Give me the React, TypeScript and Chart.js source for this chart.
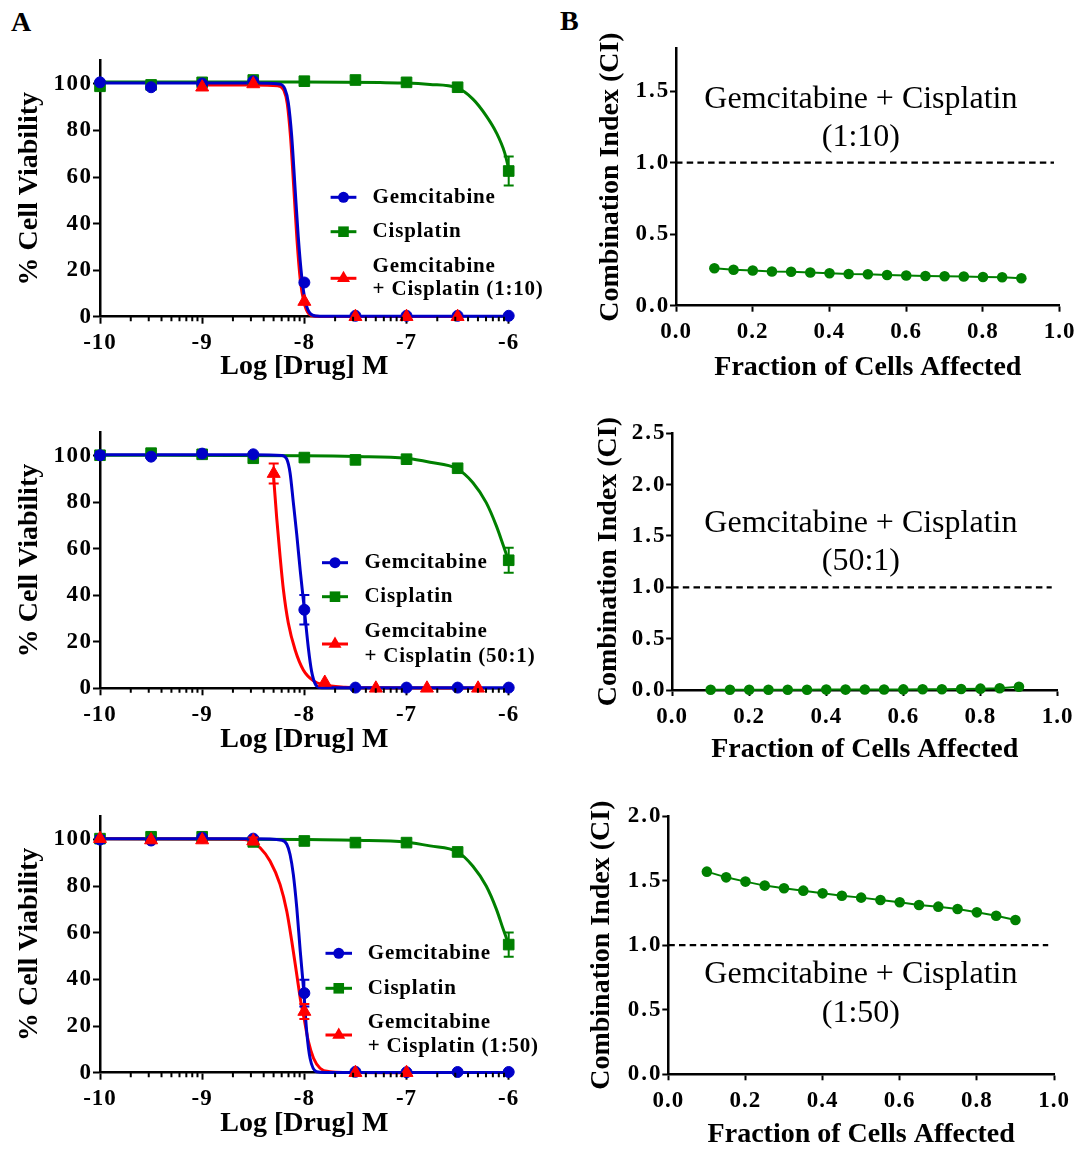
import React, { useEffect, useRef } from "react";
import { Chart, registerables } from "chart.js";

Chart.register(...registerables);

const SERIF = '"Liberation Serif", "Times New Roman", Times, serif';
const BLUE = "#0000C8";
const GREEN = "#008000";
const RED = "#FF0000";

// ---------------- Panel A : dose-response data ----------------
const doseX = [-10, -9.5, -9, -8.5, -8, -7.5, -7, -6.5, -6];
const logXTicks = [-10, -9, -8, -7, -6];
const viabilityTicks = [0, 20, 40, 60, 80, 100];
const minorTickOffsets = [0.301, 0.477, 0.602, 0.699, 0.778, 0.845, 0.903, 0.954];

// A1  (1:10)
const gemA1 = [100.7, 98.6, 100.2, 101.2, 14.7, 0.4, 0.4, 0.4, 0.4];
const gemA1Err = [0, 0, 0, 0, 0, 0, 0, 0, 0];
const cisA1 = [99.0, 99.6, 100.7, 101.7, 101.2, 101.7, 100.7, 98.6, 62.6];
const cisA1Err = [0, 0, 0, 0, 0, 0, 0, 0, 6.2];
const comboA1X = [-9, -8.5, -8, -7.5, -7, -6.5];
const comboA1 = [98.6, 100.0, 6.5, 0, 0, 0];
const comboA1Err = [0, 0, 0, 0, 0, 0];
const gemFitA1X = [-10, -8.5, -8.25, -8.19, -8.157, -8.124, -8.092, -8.06, -8.026, -7.993, -7.945, -7.88, -7.8, -6];
const gemFitA1Y = [100.4, 100.4, 100.0, 97.8, 92.0, 77.7, 56.0, 34.5, 17.3, 7.2, 1.5, 0.3, 0.2, 0.2];
const comboFitA1X = [-9, -8.5, -8.26, -8.2, -8.167, -8.135, -8.103, -8.072, -8.04, -8.005, -7.955, -7.89, -7.8, -6.5];
const comboFitA1Y = [99.6, 99.6, 99.2, 97.2, 91.5, 77.0, 55.0, 33.0, 16.0, 6.5, 1.2, 0.2, 0.1, 0.1];
const cisFitA1X = [-10, -8, -7.26, -7.0, -6.77, -6.51, -6.35, -6.22, -6.12, -6.04, -6.0];
const cisFitA1Y = [100.8, 100.8, 100.6, 100.4, 99.8, 98.4, 93.5, 86.3, 79.0, 70.5, 63.5];

// A2  (50:1)
const gemA2 = [100.3, 99.7, 101.0, 100.7, 33.8, 0.3, 0.3, 0.3, 0.3];
const gemA2Err = [1.5, 0, 0, 0, 6.3, 0, 0, 0, 0];
const cisA2 = [100.3, 101.2, 100.7, 99.0, 99.3, 98.3, 98.6, 94.7, 55.1];
const cisA2Err = [1.5, 0, 0, 0, 0, 0, 0, 0, 5.4];
const comboA2X = [-8.3, -7.8, -7.3, -6.8, -6.3];
const comboA2 = [92.4, 2.5, 0, 0, 0];
const comboA2Err = [4.3, 0, 0, 0, 0];
const gemFitA2X = [-10, -8.5, -8.22, -8.172, -8.14, -8.108, -8.074, -8.04, -8.0, -7.96, -7.93, -7.895, -7.85, -7.8, -6];
const gemFitA2Y = [100.5, 100.5, 100.2, 98.6, 92.8, 80.0, 66.0, 50.5, 34.0, 17.0, 7.5, 2.0, 0.3, 0.2, 0.2];
const comboFitA2X = [-8.3, -8.27, -8.238, -8.205, -8.157, -8.09, -8.01, -7.91, -7.81, -7.6, -7.3, -6.3];
const comboFitA2Y = [90.5, 73.0, 57.0, 42.4, 28.1, 16.5, 7.9, 3.2, 1.5, 0.5, 0.2, 0.1];
const cisFitA2X = [-10, -8, -7.5, -7.0, -6.77, -6.51, -6.35, -6.22, -6.12, -6.05, -6.0];
const cisFitA2Y = [100.3, 100.1, 99.8, 99.0, 97.3, 94.6, 88.5, 79.9, 69.8, 61.1, 54.7];

// A3  (1:50)
const gemA3 = [99.9, 99.5, 100.7, 100.3, 34.1, 0.4, 0.2, 0.3, 0.3];
const gemA3Err = [1.5, 0, 0, 0, 5.7, 0, 0, 0, 0];
const cisA3 = [100.3, 101.1, 101.1, 98.9, 99.3, 98.6, 98.6, 94.6, 54.9];
const cisA3Err = [0, 0, 0, 0, 0, 0, 0, 0, 5.2];
const comboA3X = [-10, -9.5, -9, -8.5, -8, -7.5, -7];
const comboA3 = [100.3, 99.7, 99.7, 99.3, 26.2, 0, 0];
const comboA3Err = [0, 0, 0, 1.5, 3.2, 0, 0];
const gemFitA3X = [-10, -8.5, -8.22, -8.172, -8.14, -8.108, -8.074, -8.04, -8.005, -7.977, -7.944, -7.88, -7.8, -6];
const gemFitA3Y = [100.2, 100.2, 99.6, 97.9, 93.5, 85.0, 70.6, 52.0, 34.5, 17.6, 6.2, 0.4, 0.1, 0.1];
const comboFitA3X = [-10, -8.65, -8.53, -8.433, -8.336, -8.238, -8.172, -8.123, -8.074, -8.035, -8.003, -7.96, -7.91, -7.846, -7.75, -7.6, -7];
const comboFitA3Y = [100.2, 100.1, 99.3, 96.4, 90.7, 80.7, 69.2, 56.3, 42.0, 30.5, 23.3, 13.3, 6.2, 1.9, 0.4, 0.1, 0];
const cisFitA3X = [-10, -8, -7.5, -7.0, -6.77, -6.5, -6.35, -6.22, -6.12, -6.05, -6.0];
const cisFitA3Y = [100.2, 99.9, 99.6, 98.8, 97.2, 94.6, 88.5, 80.0, 70.0, 61.0, 55.0];

const comboLabels = ["(1:10)", "(50:1)", "(1:50)"];

// ---------------- Panel B : combination index data ----------------
const faX = [0.1, 0.15, 0.2, 0.25, 0.3, 0.35, 0.4, 0.45, 0.5, 0.55, 0.6, 0.65, 0.7, 0.75, 0.8, 0.85, 0.9];
const ciB1 = [0.262, 0.251, 0.246, 0.239, 0.237, 0.232, 0.227, 0.222, 0.22, 0.215, 0.211, 0.208, 0.206, 0.204, 0.201, 0.199, 0.192];
const ciB2 = [0.002, 0.002, 0.002, 0.003, 0.003, 0.003, 0.004, 0.004, 0.005, 0.005, 0.006, 0.007, 0.008, 0.01, 0.013, 0.017, 0.032];
const ciB3 = [1.569, 1.525, 1.492, 1.461, 1.44, 1.422, 1.401, 1.383, 1.368, 1.35, 1.332, 1.311, 1.298, 1.28, 1.254, 1.228, 1.195];
const faTicks = [0, 0.2, 0.4, 0.6, 0.8, 1.0];
const ciTicksB1 = [0, 0.5, 1.0, 1.5];
const ciTicksB2 = [0, 0.5, 1.0, 1.5, 2.0, 2.5];
const ciTicksB3 = [0, 0.5, 1.0, 1.5, 2.0];
const ciMax = [1.8, 2.5, 2.0];
const refLineX = [0, 0.985];
const refLineY = [1, 1];

// ---------------- layout (page pixels) ----------------
const layoutA = [
  { canvas: { left: 0, top: 30, w: 560, h: 370 }, area: { left: 100, top: 60.7, right: 508.7, bottom: 316.7 }, xTitleY: 367, yTitleX: 29.3,
    legend: { x1: 330.6, x2: 356.4, textX: 372.6, rows: [197.3, 231.7, 278.3], comboText: [266.7, 290] } },
  { canvas: { left: 0, top: 405, w: 560, h: 365 }, area: { left: 100, top: 432.7, right: 508.7, bottom: 688.3 }, xTitleY: 740, yTitleX: 29.3,
    legend: { x1: 322, x2: 348, textX: 364.4, rows: [562.7, 596.7, 644], comboText: [631.7, 656.7] } },
  { canvas: { left: 0, top: 790, w: 560, h: 355 }, area: { left: 100, top: 816, right: 508.7, bottom: 1072.7 }, xTitleY: 1123.3, yTitleX: 29.3,
    legend: { x1: 325.5, x2: 352, textX: 367.8, rows: [953.3, 988.3, 1035], comboText: [1022.3, 1046.7] } },
];
const layoutB = [
  { canvas: { left: 540, top: 20, w: 541, h: 380 }, area: { left: 676, top: 48.3, right: 1061, bottom: 305.7 }, xTitleY: 368, yTitleX: 610.7, noteY: [100, 138] },
  { canvas: { left: 540, top: 400, w: 541, h: 370 }, area: { left: 672.1, top: 433.3, right: 1057.5, bottom: 690 }, xTitleY: 750, yTitleX: 609, noteY: [523.3, 561.7] },
  { canvas: { left: 540, top: 790, w: 541, h: 360 }, area: { left: 668.3, top: 816, right: 1054, bottom: 1074.3 }, xTitleY: 1135, yTitleX: 602, noteY: [975, 1013.3] },
];
const noteCenterX = 860.9;

const pts = (xs: number[], ys: number[]) => xs.map((x, i) => ({ x, y: ys[i] }));

// GraphPad-like letter spacing on tick labels: wrap the scale's own label drawing
function spaceLabels(s: any, spacing: string) {
  if (s.__spaced) return;
  const orig = s.drawLabels;
  s.drawLabels = function (area: any) {
    const ctx: any = this.ctx;
    ctx.letterSpacing = spacing;
    orig.call(this, area);
    ctx.letterSpacing = "0px";
  };
  s.__spaced = true;
}

function drawMarker(ctx: CanvasRenderingContext2D, style: string, x: number, y: number, color: string) {
  ctx.fillStyle = color;
  ctx.beginPath();
  if (style === "circle") {
    ctx.arc(x, y, 5.5, 0, Math.PI * 2);
  } else if (style === "rect") {
    ctx.rect(x - 5.3, y - 5.3, 10.6, 10.6);
  } else {
    ctx.moveTo(x, y - 7.5);
    ctx.lineTo(x + 6.5, y + 3.75);
    ctx.lineTo(x - 6.5, y + 3.75);
    ctx.closePath();
  }
  ctx.fill();
}

const errorBarPlugin = {
  id: "errorBars",
  beforeDatasetDraw(chart: any, args: any) {
    const ds: any = chart.data.datasets[args.index];
    if (!ds.errorBars) return;
    const yS = chart.scales.y;
    const ctx = chart.ctx;
    ctx.save();
    ctx.strokeStyle = ds.pointBorderColor;
    ctx.lineWidth = 2;
    args.meta.data.forEach((pt: any, k: number) => {
      const e = ds.errorBars[k];
      if (!e) return;
      const v = ds.data[k].y;
      const yt = yS.getPixelForValue(v + e);
      const yb = yS.getPixelForValue(v - e);
      ctx.beginPath();
      ctx.moveTo(pt.x, yt); ctx.lineTo(pt.x, yb);
      ctx.moveTo(pt.x - 5, yt); ctx.lineTo(pt.x + 5, yt);
      ctx.moveTo(pt.x - 5, yb); ctx.lineTo(pt.x + 5, yb);
      ctx.stroke();
    });
    ctx.restore();
  },
};

function minorTickPlugin() {
  return {
    id: "minorTicks",
    afterDraw(chart: any) {
      const xs = chart.scales.x;
      const ctx = chart.ctx;
      const y0 = chart.chartArea.bottom;
      ctx.save();
      ctx.strokeStyle = "#000";
      ctx.lineWidth = 2;
      ctx.beginPath();
      for (let d = -10; d < -6; d++) {
        for (const o of minorTickOffsets) {
          const px = xs.getPixelForValue(d + o);
          ctx.moveTo(px, y0);
          ctx.lineTo(px, y0 + 4.5);
        }
      }
      ctx.stroke();
      ctx.restore();
    },
  };
}

function legendPlugin(L: any, comboLabel: string) {
  const cl = L.canvas.left, ct = L.canvas.top;
  const g = L.legend;
  const items = [
    { color: BLUE, style: "circle", y: g.rows[0], lines: ["Gemcitabine"], textY: [g.rows[0]] },
    { color: GREEN, style: "rect", y: g.rows[1], lines: ["Cisplatin"], textY: [g.rows[1]] },
    { color: RED, style: "triangle", y: g.rows[2], lines: ["Gemcitabine", "+ Cisplatin " + comboLabel], textY: g.comboText },
  ];
  return {
    id: "lineLegend",
    afterDraw(chart: any) {
      const ctx = chart.ctx;
      ctx.save();
      for (const it of items) {
        const y = it.y - ct;
        ctx.strokeStyle = it.color;
        ctx.lineWidth = 3;
        ctx.beginPath();
        ctx.moveTo(g.x1 - cl, y);
        ctx.lineTo(g.x2 - cl, y);
        ctx.stroke();
        drawMarker(ctx, it.style, (g.x1 + g.x2) / 2 - cl, y, it.color);
        ctx.fillStyle = "#000";
        ctx.font = `bold 21px ${SERIF}`;
        (ctx as any).letterSpacing = "0.8px";
        ctx.textBaseline = "middle";
        ctx.textAlign = "left";
        it.lines.forEach((t, k) => ctx.fillText(t, g.textX - cl, it.textY[k] - ct));
      }
      ctx.restore();
    },
  };
}

function notePlugin(L: any, ratio: string) {
  const cl = L.canvas.left, ct = L.canvas.top;
  return {
    id: "note",
    afterDraw(chart: any) {
      const ctx = chart.ctx;
      ctx.save();
      (ctx as any).letterSpacing = "0px";
      ctx.fillStyle = "#000";
      ctx.font = `32px ${SERIF}`;
      ctx.textAlign = "center";
      ctx.textBaseline = "middle";
      ctx.fillText("Gemcitabine + Cisplatin", noteCenterX - cl, L.noteY[0] - ct);
      ctx.fillText(ratio, noteCenterX - cl, L.noteY[1] - ct);
      ctx.restore();
    },
  };
}

function axisCommon(L: any) {
  const cl = L.canvas.left, ct = L.canvas.top, cw = L.canvas.w, ch = L.canvas.h;
  return {
    yAxisW: L.area.left - cl,
    xAxisH: ct + ch - L.area.bottom,
    padding: { top: L.area.top - ct, right: cl + cw - L.area.right, bottom: 0, left: 0 },
    xTitlePad: ct + ch - L.xTitleY - 14,
    yTitlePad: L.yTitleX - cl - 14,
  };
}

const titleFont = { family: SERIF, weight: "bold" as const, size: 28, lineHeight: 1 };

function scaleStyle(tickSize: number, tickLen: number, pad: number) {
  return {
    ticks: { font: { family: SERIF, weight: "bold" as const, size: tickSize, lineHeight: 1.2 }, color: "#000", padding: pad, maxRotation: 0, autoSkip: false },
    grid: { drawOnChartArea: false, drawTicks: true, tickLength: tickLen, tickWidth: 2, tickColor: "#000" },
    border: { display: true, color: "#000", width: 2.5 },
  };
}

function makeAConfig(i: number): any {
  const L = layoutA[i];
  const c = axisCommon(L);
  const S = [
    { gem: gemA1, gemErr: gemA1Err, cis: cisA1, cisErr: cisA1Err, cx: comboA1X, cy: comboA1, cErr: comboA1Err,
      gfx: gemFitA1X, gfy: gemFitA1Y, cfx: comboFitA1X, cfy: comboFitA1Y, sfx: cisFitA1X, sfy: cisFitA1Y },
    { gem: gemA2, gemErr: gemA2Err, cis: cisA2, cisErr: cisA2Err, cx: comboA2X, cy: comboA2, cErr: comboA2Err,
      gfx: gemFitA2X, gfy: gemFitA2Y, cfx: comboFitA2X, cfy: comboFitA2Y, sfx: cisFitA2X, sfy: cisFitA2Y },
    { gem: gemA3, gemErr: gemA3Err, cis: cisA3, cisErr: cisA3Err, cx: comboA3X, cy: comboA3, cErr: comboA3Err,
      gfx: gemFitA3X, gfy: gemFitA3Y, cfx: comboFitA3X, cfy: comboFitA3Y, sfx: cisFitA3X, sfy: cisFitA3Y },
  ][i];
  const pointDs = (label: string, data: any[], err: number[], color: string, style: string, radius: number, order: number) => ({
    label, data, errorBars: err, showLine: false, pointStyle: style, pointRadius: radius,
    pointBackgroundColor: color, pointBorderColor: color, pointBorderWidth: 1, order, clip: false,
  });
  const fitDs = (label: string, data: any[], color: string, width: number, order: number) => ({
    label, data, showLine: true, pointRadius: 0, borderColor: color, borderWidth: width,
    cubicInterpolationMode: "monotone", fill: false, order, clip: false,
  });
  const st = scaleStyle(23, 7, 5.9);
  const sty = scaleStyle(23, 7, 0.5);
  return {
    type: "line",
    data: {
      datasets: [
        pointDs("Gemcitabine + Cisplatin " + comboLabels[i], pts(S.cx, S.cy), S.cErr, RED, "triangle", 7.5, 0),
        pointDs("Gemcitabine", pts(doseX, S.gem), S.gemErr, BLUE, "circle", 5.5, 1),
        pointDs("Cisplatin", pts(doseX, S.cis), S.cisErr, GREEN, "rect", 7.5, 2),
        fitDs("Gemcitabine fit", pts(S.gfx, S.gfy), BLUE, 3, 3),
        fitDs("Combination fit", pts(S.cfx, S.cfy), RED, 3, 4),
        fitDs("Cisplatin fit", pts(S.sfx, S.sfy), GREEN, 3, 5),
      ],
    },
    options: {
      responsive: false, animation: false, events: [], devicePixelRatio: 1,
      layout: { padding: c.padding },
      plugins: { legend: { display: false }, tooltip: { enabled: false } },
      scales: {
        x: {
          type: "linear", min: -10, max: -6, ...st,
          ticks: { ...st.ticks, callback: (v: any) => String(v) },
          afterBuildTicks: (s: any) => { s.ticks = logXTicks.map((v) => ({ value: v })); },
          afterFit: (s: any) => { s.height = c.xAxisH; spaceLabels(s, "1px"); },
          title: { display: true, text: "Log [Drug] M", font: titleFont, color: "#000", padding: { top: 0, bottom: c.xTitlePad } },
        },
        y: {
          type: "linear", min: 0, max: 110, ...sty,
          ticks: { ...sty.ticks, callback: (v: any) => String(v) },
          afterBuildTicks: (s: any) => { s.ticks = viabilityTicks.map((v) => ({ value: v })); },
          afterFit: (s: any) => { s.width = c.yAxisW; spaceLabels(s, "1.5px"); },
          title: { display: true, text: "% Cell Viability", font: titleFont, color: "#000", padding: { top: c.yTitlePad, bottom: 0 } },
        },
      },
    },
    plugins: [errorBarPlugin, minorTickPlugin(), legendPlugin(L, comboLabels[i])],
  };
}

function makeBConfig(i: number): any {
  const L = layoutB[i];
  const c = axisCommon(L);
  const ci = [ciB1, ciB2, ciB3][i];
  const yt = [ciTicksB1, ciTicksB2, ciTicksB3][i];
  const st = scaleStyle(23, 6, 6.9);
  const sty = scaleStyle(23, 6, -0.3);
  return {
    type: "line",
    data: {
      datasets: [
        { label: "CI", data: pts(faX, ci), showLine: true, borderColor: GREEN, borderWidth: 2, pointRadius: 5.3,
          pointBackgroundColor: GREEN, pointBorderColor: GREEN, pointBorderWidth: 0, tension: 0, order: 0, clip: false },
        { label: "CI = 1", data: pts(refLineX, refLineY), showLine: true, borderColor: "#000", borderWidth: 2.2,
          borderDash: [6.5, 4.2], pointRadius: 0, order: 1, clip: false },
      ],
    },
    options: {
      responsive: false, animation: false, events: [], devicePixelRatio: 1,
      layout: { padding: c.padding },
      plugins: { legend: { display: false }, tooltip: { enabled: false } },
      scales: {
        x: {
          type: "linear", min: 0, max: 1, ...st,
          ticks: { ...st.ticks, callback: (v: any) => Number(v).toFixed(1) },
          afterBuildTicks: (s: any) => { s.ticks = faTicks.map((v) => ({ value: v })); },
          afterFit: (s: any) => { s.height = c.xAxisH; spaceLabels(s, "1px"); },
          title: { display: true, text: "Fraction of Cells Affected", font: titleFont, color: "#000", padding: { top: 0, bottom: c.xTitlePad } },
        },
        y: {
          type: "linear", min: 0, max: ciMax[i], ...sty,
          ticks: { ...sty.ticks, callback: (v: any) => Number(v).toFixed(1) },
          afterBuildTicks: (s: any) => { s.ticks = yt.map((v) => ({ value: v })); },
          afterFit: (s: any) => { s.width = c.yAxisW; spaceLabels(s, "2px"); },
          title: { display: true, text: "Combination Index (CI)", font: titleFont, color: "#000", padding: { top: c.yTitlePad, bottom: 0 } },
        },
      },
    },
    plugins: [notePlugin(L, comboLabels[i])],
  };
}

function ChartCanvas({ L, make }: { L: any; make: () => any }) {
  const ref = useRef<HTMLCanvasElement | null>(null);
  useEffect(() => {
    if (!ref.current) return;
    const chart = new Chart(ref.current, make());
    return () => chart.destroy();
  }, []);
  return (
    <canvas
      ref={ref}
      width={L.canvas.w}
      height={L.canvas.h}
      style={{ position: "absolute", left: L.canvas.left, top: L.canvas.top, width: L.canvas.w, height: L.canvas.h }}
    />
  );
}

export default function App() {
  const letter = { position: "absolute" as const, fontFamily: SERIF, fontWeight: "bold" as const, fontSize: 28, lineHeight: "28px" };
  return (
    <div style={{ position: "absolute", left: 0, top: 0, width: 1081, height: 1150, background: "#fff", overflow: "hidden" }}>
      <div style={{ ...letter, left: 11, top: 8 }}>A</div>
      <div style={{ ...letter, left: 560, top: 7 }}>B</div>
      {layoutA.map((L, i) => (
        <ChartCanvas key={"a" + i} L={L} make={() => makeAConfig(i)} />
      ))}
      {layoutB.map((L, i) => (
        <ChartCanvas key={"b" + i} L={L} make={() => makeBConfig(i)} />
      ))}
    </div>
  );
}
